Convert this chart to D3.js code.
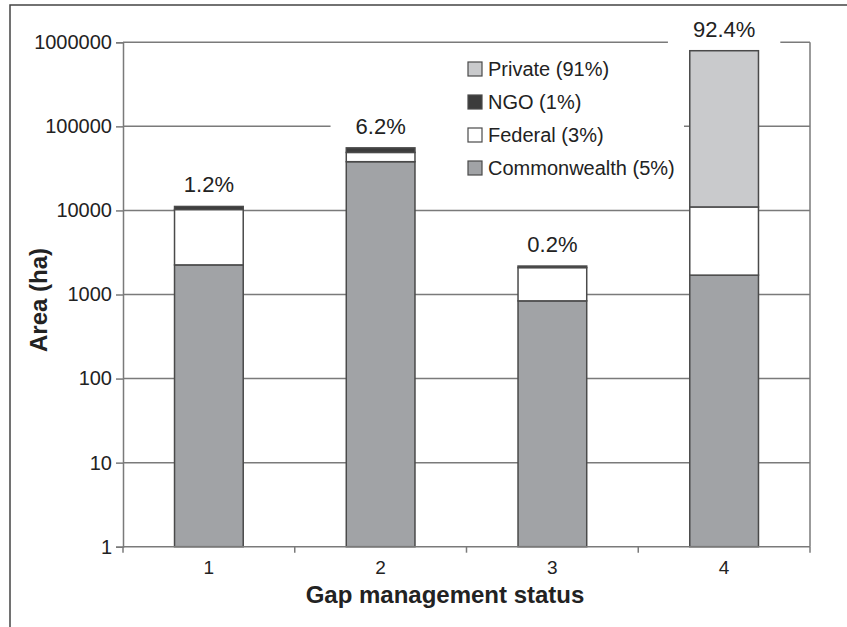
<!DOCTYPE html>
<html>
<head>
<meta charset="utf-8">
<script src="https://cdn.jsdelivr.net/npm/d3@7"></script>
<style>
  body { margin: 0; background: #fff; }
  text { font-family: "Liberation Sans", Arial, sans-serif; fill: #222; }
</style>
</head>
<body>
<svg id="vis" width="847" height="627"></svg>
<script>
const width = 847;
const height = 627;

// data (ha)
const categories = ["1", "2", "3", "4"];
const commonwealth = [2250, 38000, 840, 1700];
const federal = [8000, 11000, 1250, 9300];
const ngo = [900, 6500, 90, 0];
const privateLand = [0, 0, 0, 783000];
const shareLabels = ["1.2%", "6.2%", "0.2%", "92.4%"];
const seriesKeys = ["Commonwealth", "Federal", "NGO", "Private"];
const legendLabels = ["Private (91%)", "NGO (1%)", "Federal (3%)", "Commonwealth (5%)"];
const yTicks = [1, 10, 100, 1000, 10000, 100000, 1000000];

const colors = {
  Commonwealth: "#a1a3a6",
  Federal: "#ffffff",
  NGO: "#3c3c3c",
  Private: "#c9cacc"
};

const table = categories.map(function(c, i) {
  return {
    cat: c,
    Commonwealth: commonwealth[i],
    Federal: federal[i],
    NGO: ngo[i],
    Private: privateLand[i]
  };
});

const margin = {top: 42.3, right: 37, bottom: 80.3, left: 123};

const svg = d3.select("svg#vis");

// outer frame (only top and left edges show)
svg.append("rect")
  .attr("x", 10).attr("y", 5)
  .attr("width", width).attr("height", height)
  .attr("fill", "none")
  .attr("stroke", "#444")
  .attr("stroke-width", 1.5);

const x = d3.scaleBand()
  .domain(categories)
  .range([margin.left, width - margin.right])
  .paddingInner(0.6)
  .paddingOuter(0.3);

const y = d3.scaleLog()
  .domain([1, 1000000])
  .range([height - margin.bottom, margin.top]);

const g = {
  grid: svg.append("g").attr("id", "grid"),
  bars: svg.append("g").attr("id", "bars"),
  labels: svg.append("g").attr("id", "labels"),
  axes: svg.append("g").attr("id", "axes"),
  legend: svg.append("g").attr("id", "legend")
};

// gridlines
g.grid.selectAll("line.grid")
  .data(yTicks.slice(1))
  .enter()
  .append("line")
  .attr("class", "grid")
  .attr("x1", margin.left)
  .attr("x2", width - margin.right)
  .attr("y1", d => y(d))
  .attr("y2", d => y(d))
  .attr("stroke", "#7a7a7a")
  .attr("stroke-width", 1.5);

// plot area right edge
g.grid.append("line")
  .attr("x1", width - margin.right)
  .attr("x2", width - margin.right)
  .attr("y1", margin.top)
  .attr("y2", height - margin.bottom)
  .attr("stroke", "#7a7a7a")
  .attr("stroke-width", 1.5);

// stacked bars
const stack = d3.stack().keys(seriesKeys);
const series = stack(table);

g.bars.selectAll("g.layer")
  .data(series)
  .enter()
  .append("g")
  .attr("class", "layer")
  .attr("fill", d => colors[d.key])
  .selectAll("rect")
  .data(d => d.filter(s => s[1] > s[0]))
  .enter()
  .append("rect")
  .attr("x", d => x(d.data.cat))
  .attr("width", x.bandwidth())
  .attr("y", d => y(d[1]))
  .attr("height", d => y(Math.max(d[0], 1)) - y(d[1]))
  .attr("stroke", "#4a4a4a")
  .attr("stroke-width", 1.5);

// share labels above each bar, with white box behind (hides gridline)
const totals = table.map(d => seriesKeys.reduce((s, k) => s + d[k], 0));

const lab = g.labels.selectAll("g.share")
  .data(categories)
  .enter()
  .append("g")
  .attr("class", "share");

lab.append("text")
  .attr("x", d => x(d) + x.bandwidth() / 2)
  .attr("y", (d, i) => y(totals[i]) - 14)
  .attr("text-anchor", "middle")
  .style("font-size", "22px")
  .text((d, i) => shareLabels[i]);

lab.each(function() {
  const t = d3.select(this).select("text");
  const b = t.node().getBBox();
  d3.select(this).insert("rect", "text")
    .attr("x", b.x - 25)
    .attr("y", b.y - 2)
    .attr("width", b.width + 50)
    .attr("height", b.height + 4)
    .attr("fill", "#fff");
});

// axes
const yAxis = d3.axisLeft(y)
  .tickValues(yTicks)
  .tickFormat(d3.format("d"))
  .tickSize(7)
  .tickPadding(4);

const ya = g.axes.append("g")
  .attr("transform", "translate(" + margin.left + ",0)")
  .call(yAxis);
ya.select(".domain").attr("stroke", "#7a7a7a").attr("stroke-width", 1.5);
ya.selectAll(".tick line").attr("stroke", "#7a7a7a").attr("stroke-width", 1.5);
ya.selectAll(".tick text")
  .style("font-size", "20px")
  .style("font-family", "'Liberation Sans', Arial, sans-serif")
  .attr("fill", "#222");

const xa = g.axes.append("g");
xa.append("line")
  .attr("x1", margin.left)
  .attr("x2", width - margin.right)
  .attr("y1", y(1))
  .attr("y2", y(1))
  .attr("stroke", "#7a7a7a")
  .attr("stroke-width", 1.5);

// ticks between categories
xa.selectAll("line.xtick")
  .data(d3.range(categories.length + 1))
  .enter()
  .append("line")
  .attr("class", "xtick")
  .attr("x1", i => x.range()[0] + i * x.step())
  .attr("x2", i => x.range()[0] + i * x.step())
  .attr("y1", y(1))
  .attr("y2", y(1) + 6)
  .attr("stroke", "#7a7a7a")
  .attr("stroke-width", 1.5);

xa.selectAll("text.xlab")
  .data(categories)
  .enter()
  .append("text")
  .attr("class", "xlab")
  .attr("x", d => x(d) + x.bandwidth() / 2)
  .attr("y", y(1) + 27)
  .attr("text-anchor", "middle")
  .style("font-size", "19px")
  .text(d => d);

// axis titles
svg.append("text")
  .attr("x", 445)
  .attr("y", 603)
  .attr("text-anchor", "middle")
  .style("font-size", "24px")
  .style("font-weight", "bold")
  .text("Gap management status");

svg.append("text")
  .attr("transform", "translate(47,300) rotate(-90)")
  .attr("text-anchor", "middle")
  .style("font-size", "24px")
  .style("font-weight", "bold")
  .text("Area (ha)");

// legend
g.legend.append("rect")
  .attr("x", 428).attr("y", 50)
  .attr("width", 256).attr("height", 136)
  .attr("fill", "#fff");

const legendKeys = seriesKeys.slice().reverse();
const item = g.legend.selectAll("g.item")
  .data(legendKeys)
  .enter()
  .append("g")
  .attr("class", "item")
  .attr("transform", (d, i) => "translate(468," + (69 + i * 33) + ")");

item.append("rect")
  .attr("x", 0).attr("y", -7)
  .attr("width", 14).attr("height", 14)
  .attr("fill", d => colors[d])
  .attr("stroke", "#4a4a4a")
  .attr("stroke-width", 1.2);

item.append("text")
  .attr("x", 20)
  .attr("y", 7)
  .style("font-size", "20px")
  .text((d, i) => legendLabels[i]);
</script>
</body>
</html>
